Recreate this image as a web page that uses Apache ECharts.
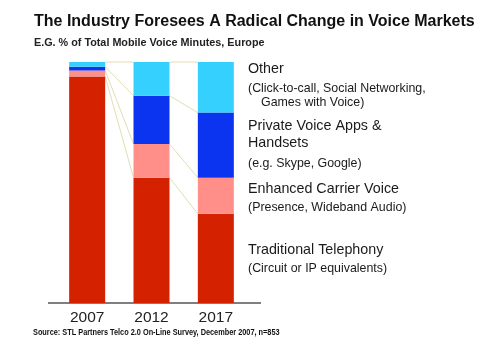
<!DOCTYPE html>
<html>
<head>
<meta charset="utf-8">
<script src="https://cdn.jsdelivr.net/npm/echarts@6/dist/echarts.min.js"></script>
<style>
html,body{margin:0;padding:0;background:#fff;}
#chart{width:483px;height:347px;}
</style>
</head>
<body>
<div id="chart"></div>
<script>
// ---- Data ----
var categories = ['2007', '2012', '2017'];
var traditional = [94, 52, 37];
var enhanced = [2.5, 14, 15];
var privateApps = [1.5, 20, 27];
var other = [2, 14, 21];

var seriesNames = ['Traditional Telephony', 'Enhanced Carrier Voice', 'Private Voice Apps & Handsets', 'Other'];
var seriesValues = [traditional, enhanced, privateApps, other];
var colors = ['#d42200', '#ff8f88', '#0a34f0', '#36d0ff'];

var legendLines = [
  ['Other', 14.3, 248, 71],
  ['(Click-to-call, Social Networking,', 12.4, 248, 90],
  ['Games with Voice)', 12.4, 261, 104],
  ['Private Voice Apps &', 14.3, 248, 128],
  ['Handsets', 14.3, 248, 145],
  ['(e.g. Skype, Google)', 12.4, 248, 165],
  ['Enhanced Carrier Voice', 14.3, 248, 191],
  ['(Presence, Wideband Audio)', 12.4, 248, 209],
  ['Traditional Telephony', 14.3, 248, 252],
  ['(Circuit or IP equivalents)', 12.4, 248, 270]
];

// cumulative boundaries per category
function cumulative(i) {
  var c = [], s = 0;
  for (var k = 0; k < seriesValues.length; k++) { s += seriesValues[k][i]; c.push(s); }
  return c;
}
var connectorData = [];
for (var i = 0; i < categories.length - 1; i++) connectorData.push([i]);

var chart = echarts.init(document.getElementById('chart'), null, {renderer: 'canvas'});
var BAR_W = 36;

var series = seriesNames.map(function (n, k) {
  return {
    name: n, type: 'bar', stack: 'total', barWidth: BAR_W,
    data: seriesValues[k], itemStyle: {color: colors[k]}, silent: true
  };
});
series.push({
  type: 'custom', silent: true, z: 1,
  data: connectorData,
  renderItem: function (params, api) {
    var i = api.value(0);
    var a = cumulative(i), b = cumulative(i + 1);
    var children = [];
    for (var k = 0; k < a.length; k++) {
      var p1 = api.coord([i, a[k]]);
      var p2 = api.coord([i + 1, b[k]]);
      children.push({
        type: 'line',
        shape: {x1: p1[0] + BAR_W / 2, y1: p1[1], x2: p2[0] - BAR_W / 2, y2: p2[1]},
        style: {stroke: '#e2deb2', lineWidth: 1}
      });
    }
    return {type: 'group', children: children};
  }
});

var graphics = legendLines.map(function (l) {
  return {
    type: 'text', left: l[2], top: l[3] - l[1] * 0.6,
    style: {text: l[0], font: l[1] + 'px "Liberation Sans", Arial, sans-serif', fill: '#1a1a1a'}
  };
});
graphics.push({
  type: 'line', shape: {x1: 48, y1: 303, x2: 261, y2: 303},
  style: {stroke: '#555', lineWidth: 1.5}
});
graphics.push({
  type: 'text', x: 33, y: 328, scaleX: 0.815,
  style: {text: 'Source: STL Partners Telco 2.0 On-Line Survey, December 2007, n=853',
    font: 'bold 9px "Liberation Sans", Arial, sans-serif', fill: '#111'}
});

chart.setOption({
  backgroundColor: '#fff',
  animation: false,
  title: {
    text: 'The Industry Foresees A Radical Change in Voice Markets',
    subtext: 'E.G. % of Total Mobile Voice Minutes, Europe',
    left: 34, top: 14, itemGap: 8, padding: 0,
    textStyle: {fontFamily: '"Liberation Sans", Arial, sans-serif', fontWeight: 'bold', fontSize: 16, color: '#111'},
    subtextStyle: {fontFamily: '"Liberation Sans", Arial, sans-serif', fontWeight: 'bold', fontSize: 10.8, color: '#222'}
  },
  grid: {left: 55, width: 193, top: 62, bottom: 44},
  xAxis: {
    type: 'category', data: categories,
    axisLine: {show: false}, axisTick: {show: false},
    axisLabel: {fontFamily: '"Liberation Sans", Arial, sans-serif', fontSize: 15.5, color: '#222', margin: 7}
  },
  yAxis: {type: 'value', min: 0, max: 100, show: false, splitLine: {show: false}},
  series: series,
  graphic: graphics
});
</script>
</body>
</html>
